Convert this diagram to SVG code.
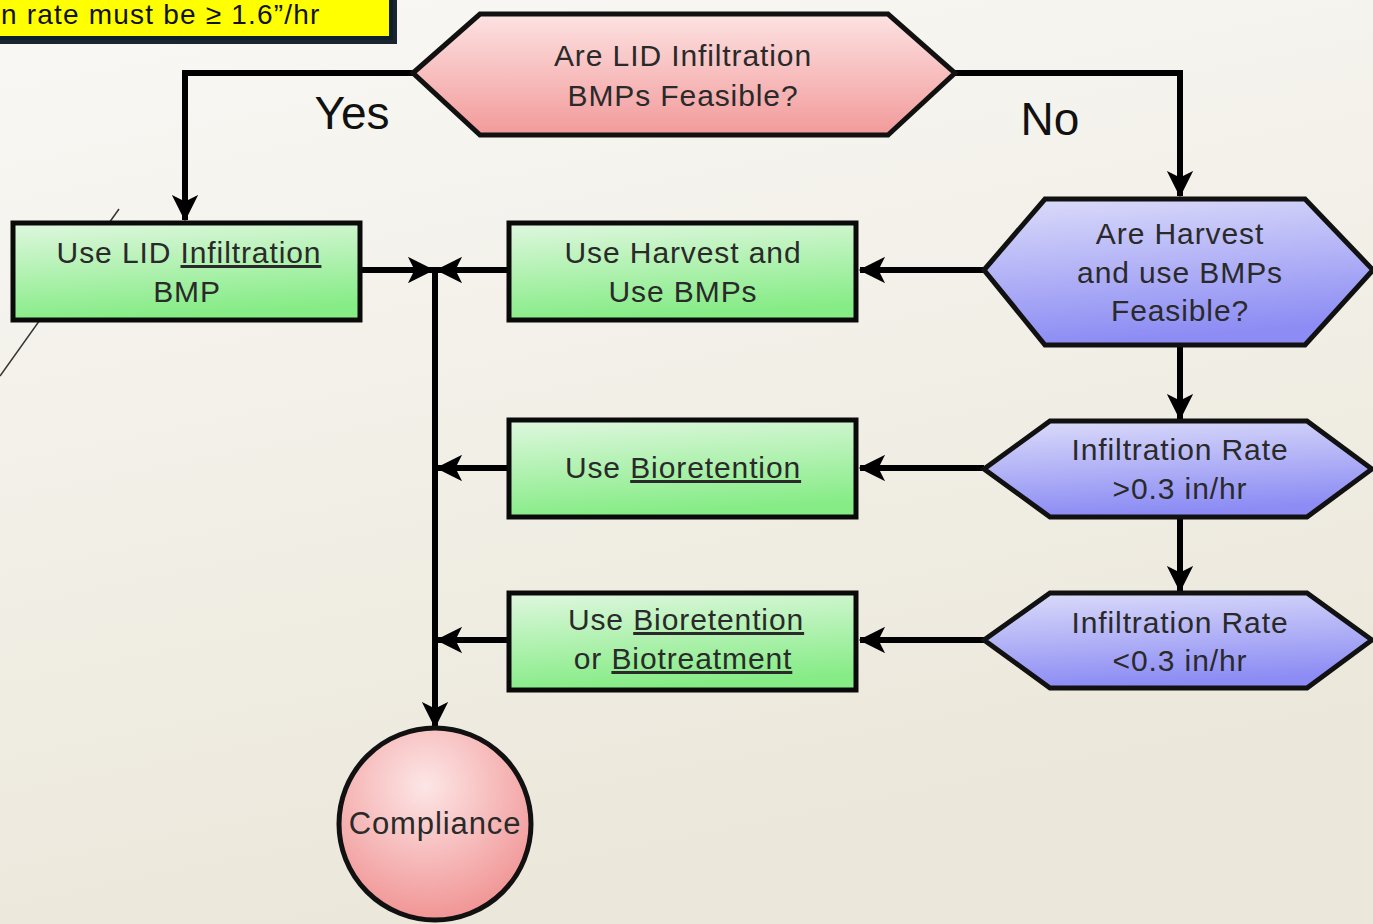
<svg xmlns="http://www.w3.org/2000/svg" width="1373" height="924" viewBox="0 0 1373 924">
<defs>
<linearGradient id="bg" x1="0" y1="0" x2="0.3" y2="1"><stop offset="0" stop-color="#f9f8f5"/><stop offset="1" stop-color="#ebe7da"/></linearGradient>
<linearGradient id="green" x1="0" y1="0" x2="0.2" y2="1"><stop offset="0" stop-color="#dff7df"/><stop offset="1" stop-color="#86ec86"/></linearGradient>
<linearGradient id="pink" x1="0" y1="0" x2="0" y2="1"><stop offset="0" stop-color="#fde2e2"/><stop offset="1" stop-color="#f29a9a"/></linearGradient>
<linearGradient id="blue" x1="0" y1="0" x2="0.2" y2="1"><stop offset="0" stop-color="#dcdcfa"/><stop offset="1" stop-color="#8c8cf4"/></linearGradient>
<radialGradient id="pinkc" cx="0.45" cy="0.3" r="0.75"><stop offset="0" stop-color="#fde6e6"/><stop offset="1" stop-color="#f08f8f"/></radialGradient>
<marker id="ah" viewBox="0 0 20 20" refX="19" refY="10" markerWidth="5" markerHeight="4.4" markerUnits="strokeWidth" orient="auto"><path d="M0,0 L20,10 L0,20 L5,10 Z" fill="#000"/></marker>
<style>
.box{fill:url(#green);stroke:#0a0a0a;stroke-width:5}
.hexp{fill:url(#pink);stroke:#111;stroke-width:5;stroke-linejoin:miter}
.hexb{fill:url(#blue);stroke:#111;stroke-width:5}
.t{font-family:"Liberation Sans",Arial,sans-serif;font-size:30px;letter-spacing:0.9px;fill:#2a2a2a;text-anchor:middle}
.c{fill:none;stroke:#000;stroke-width:6}
.lbl{font-family:"Liberation Sans",Arial,sans-serif;font-size:46px;fill:#111;text-anchor:middle}
.u{text-decoration:underline}
</style>
</defs>
<rect width="1373" height="924" fill="url(#bg)"/>
<line x1="119" y1="209" x2="0" y2="376" stroke="#333" stroke-width="1.5"/>
<g id="note">
<rect x="-10" y="-10" width="407" height="54" fill="#1a2530"/>
<rect x="-10" y="-10" width="401" height="48" fill="#ffff00" stroke="#0d1f2b" stroke-width="4"/>
<text x="1" y="24" font-family="'Liberation Sans',Arial,sans-serif" font-size="28" letter-spacing="1.2" fill="#111">n rate must be ≥ 1.6”/hr</text>
</g>
<g id="connectors">
<polyline class="c" points="413,73 185,73 185,220" marker-end="url(#ah)"/>
<polyline class="c" points="955,73 1180,73 1180,196" marker-end="url(#ah)"/>
<line class="c" x1="1180" y1="346" x2="1180" y2="419" marker-end="url(#ah)"/>
<line class="c" x1="1180" y1="519" x2="1180" y2="591" marker-end="url(#ah)"/>
<line class="c" x1="984" y1="270" x2="860" y2="270" marker-end="url(#ah)"/>
<line class="c" x1="984" y1="468" x2="860" y2="468" marker-end="url(#ah)"/>
<line class="c" x1="984" y1="640" x2="860" y2="640" marker-end="url(#ah)"/>
<line class="c" x1="362" y1="270" x2="433" y2="270" marker-end="url(#ah)"/>
<line class="c" x1="507" y1="270" x2="437" y2="270" marker-end="url(#ah)"/>
<line class="c" x1="507" y1="468" x2="437" y2="468" marker-end="url(#ah)"/>
<line class="c" x1="507" y1="640" x2="437" y2="640" marker-end="url(#ah)"/>
<line class="c" x1="435" y1="267" x2="435" y2="727" marker-end="url(#ah)"/>
<text class="lbl" x="352" y="129">Yes</text>
<text class="lbl" x="1050" y="135">No</text>
</g>
<g id="q1">
<polygon class="hexp" points="413,73 480,14 888,14 955,73 888,135 480,135"/>
<text class="t" x="683" y="66">Are LID Infiltration</text>
<text class="t" x="683" y="106">BMPs Feasible?</text>
</g>
<g id="lid">
<rect class="box" x="13" y="223" width="347" height="97"/>
<text class="t" x="189" y="263">Use LID <tspan class="u">Infiltration</tspan></text>
<text class="t" x="187" y="302">BMP</text>
</g>
<g id="harvest">
<rect class="box" x="509" y="223" width="347" height="97"/>
<text class="t" x="683" y="263">Use Harvest and</text>
<text class="t" x="683" y="302">Use BMPs</text>
</g>
<g id="bio">
<rect class="box" x="509" y="420" width="347" height="97"/>
<text class="t" x="683" y="478">Use <tspan class="u">Bioretention</tspan></text>
</g>
<g id="biotreat">
<rect class="box" x="509" y="593" width="347" height="97"/>
<text class="t" x="686" y="630">Use <tspan class="u">Bioretention</tspan></text>
<text class="t" x="683" y="669">or <tspan class="u">Biotreatment</tspan></text>
</g>
<g id="q2">
<polygon class="hexb" points="984,270 1045,199 1305,199 1373,270 1305,345 1045,345"/>
<text class="t" x="1180" y="244">Are Harvest</text>
<text class="t" x="1180" y="283">and use BMPs</text>
<text class="t" x="1180" y="321">Feasible?</text>
</g>
<g id="q3">
<polygon class="hexb" points="984,469 1050,421 1307,421 1372,469 1307,517 1050,517"/>
<text class="t" x="1180" y="460">Infiltration Rate</text>
<text class="t" x="1180" y="499">&gt;0.3 in/hr</text>
</g>
<g id="q4">
<polygon class="hexb" points="984,640 1050,593 1307,593 1372,640 1307,688 1050,688"/>
<text class="t" x="1180" y="633">Infiltration Rate</text>
<text class="t" x="1180" y="671">&lt;0.3 in/hr</text>
</g>
<g id="compliance">
<circle cx="435" cy="824" r="96" fill="url(#pinkc)" stroke="#111" stroke-width="5"/>
<text class="t" x="435" y="834" style="font-size:31px">Compliance</text>
</g>
</svg>
